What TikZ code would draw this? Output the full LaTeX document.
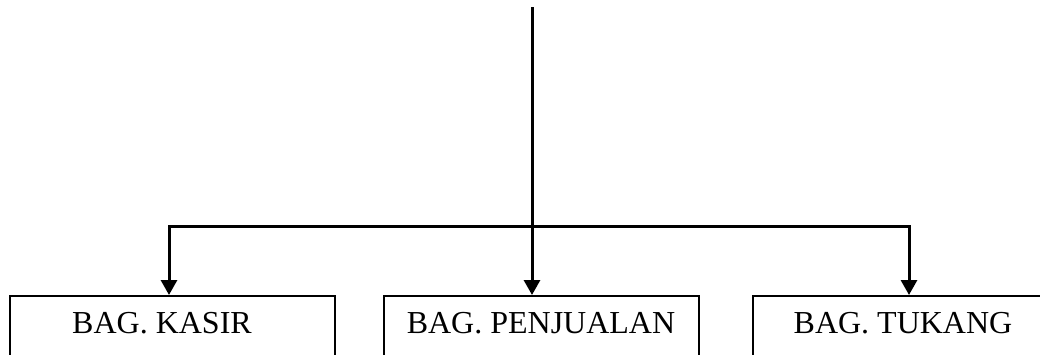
\documentclass[tikz,border=0pt]{standalone}
\usepackage{fontspec}
\setmainfont{Liberation Serif}
\usetikzlibrary{arrows.meta}
\begin{document}
\begin{tikzpicture}[x=1pt,y=-1pt,
  conn/.style={line width=3pt,-{Triangle[length=15pt,width=16pt]}},
  line/.style={line width=3pt,line cap=rect},
  box/.style={draw,line width=2pt,rectangle,minimum height=120pt,anchor=north,inner sep=0pt},
  lbl/.style={font=\fontsize{32}{32}\selectfont,inner sep=0pt,anchor=base}]
\useasboundingbox (0,0) rectangle (1040,354);
\clip (0,0) rectangle (1040,354);
\node[box,minimum width=325pt] (b1) at (172.5,295) {};
\node[box,minimum width=315pt] (b2) at (541.5,295) {};
\node[box,minimum width=300pt] (b3) at (903,295) {};
\node[lbl] (t1) at (162,333) {BAG. KASIR};
\node[lbl] (t2) at (541,333) {BAG. PENJUALAN};
\node[lbl] (t3) at (903,333) {BAG. TUKANG};
\coordinate (top) at (532,8);
\coordinate (j) at (532,226);
\coordinate (l) at (169,226);
\coordinate (r) at (909,226);
\draw[line] (top) -- (j);
\draw[line] (l) -- (r);
\draw[conn] (l) -- (b1.north -| l);
\draw[conn] (j) -- (b2.north -| j);
\draw[conn] (r) -- (b3.north -| r);
\end{tikzpicture}
\end{document}
